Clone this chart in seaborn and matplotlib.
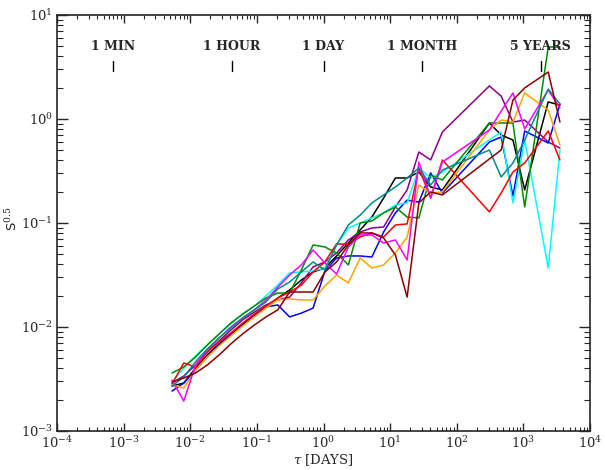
import numpy as np
import pandas as pd
import matplotlib
matplotlib.use("Agg")
import matplotlib.pyplot as plt
import seaborn as sns
from matplotlib.ticker import LogLocator, NullFormatter

# ---- data ----
TAU = [0.00533, 0.0080, 0.0120, 0.0180, 0.0271, 0.0406, 0.0610, 0.0916, 0.137, 0.206,
       0.310, 0.465, 0.698, 1.05, 1.57, 2.36, 3.55, 5.32, 7.99, 12.0,
       18.0, 27.0, 40.6, 60.9, 309, 464, 697, 1047, 2360, 3540]

black = [0.00271, 0.00289, 0.00403, 0.00538, 0.00687, 0.00838, 0.01045, 0.0128, 0.0156, 0.0190,
         0.0227, 0.0283, 0.0338, 0.0369, 0.0482, 0.0642, 0.0857, 0.114, 0.174, 0.271,
         0.271, 0.309, 0.222, 0.208, 0.915, 0.702, 0.628, 0.208, 1.46, 1.36]
purple = [0.00289, 0.00338, 0.00431, 0.00575, 0.00734, 0.00934, 0.0117, 0.0139, 0.0163, 0.0182,
          0.0194, 0.0265, 0.0378, 0.0422, 0.0515, 0.0687, 0.0819, 0.0896, 0.0915, 0.1425,
          0.208, 0.482, 0.404, 0.750, 2.08, 1.66, 0.934, 0.978, 0.601, 0.526]
blue = [0.00242, 0.00289, 0.00386, 0.00515, 0.00671, 0.00857, 0.0107, 0.0130, 0.0156, 0.0163,
        0.0125, 0.0136, 0.0152, 0.0346, 0.0461, 0.0482, 0.0482, 0.0471, 0.0819, 0.125,
        0.166, 0.159, 0.303, 0.194, 0.601, 0.671, 0.182, 0.767, 0.588, 1.394]
cyan = [0.00296, 0.00403, 0.00526, 0.00671, 0.00857, 0.0107, 0.0133, 0.0159, 0.0199, 0.0253,
        0.0331, 0.0338, 0.0346, 0.0369, 0.0615, 0.0896, 0.100, 0.112, 0.125, 0.149,
        0.156, 0.338, 0.271, 0.309, 0.628, 0.750, 0.156, 0.628, 0.0369, 0.503]
green = [0.00361, 0.00413, 0.00515, 0.00671, 0.00857, 0.0109, 0.0133, 0.0159, 0.0190, 0.0212,
         0.0212, 0.0353, 0.0615, 0.0588, 0.0515, 0.0395, 0.100, 0.1045, 0.125, 0.1425,
         0.114, 0.112, 0.289, 0.259, 0.915, 0.915, 0.915, 0.1425, 4.92, 4.92]
red = [0.00283, 0.00451, 0.00413, 0.00575, 0.00718, 0.00876, 0.0109, 0.0133, 0.0159, 0.0190,
       0.0217, 0.0253, 0.0338, 0.0422, 0.0628, 0.0628, 0.0734, 0.0802, 0.0734, 0.0957,
       0.098, 0.338, 0.174, 0.404, 0.128, 0.194, 0.309, 0.378, 0.767, 0.404]
orange = [0.00277, 0.00259, 0.00386, 0.00515, 0.00657, 0.00819, 0.0102, 0.0125, 0.0152, 0.0182,
          0.0186, 0.0182, 0.0182, 0.0248, 0.0316, 0.0265, 0.0461, 0.0369, 0.0395, 0.0515,
          0.0734, 0.232, 0.194, 0.199, 0.784, 0.978, 0.934, 1.78, 1.22, 0.562]
magenta = [0.00309, 0.00194, 0.00431, 0.00601, 0.00784, 0.0100, 0.0122, 0.0146, 0.0182, 0.0242,
           0.0316, 0.0395, 0.0550, 0.0413, 0.0323, 0.0588, 0.0767, 0.0767, 0.0642, 0.0687,
           0.0441, 0.386, 0.174, 0.386, 0.784, 1.19, 1.778, 0.802, 1.90, 1.276]
teal = [0.00271, 0.00331, 0.00461, 0.00615, 0.00784, 0.00978, 0.0122, 0.0146, 0.0174, 0.0232,
        0.0271, 0.0338, 0.0422, 0.0353, 0.0615, 0.0957, 0.119, 0.156, 0.186, 0.222,
        0.271, 0.338, 0.232, 0.323, 0.503, 0.277, 0.378, 0.628, 1.94, 1.394]
maroon = [0.00296, 0.00323, 0.00361, 0.00431, 0.00538, 0.00687, 0.00857, 0.01045, 0.0125, 0.0146,
          0.0217, 0.0217, 0.0217, 0.0338, 0.0422, 0.0615, 0.0802, 0.0802, 0.0717, 0.0492,
          0.0194, 0.156, 0.199, 0.186, 0.413, 0.503, 1.52, 1.99, 2.83, 0.934]

SERIES = {"black": black, "purple": purple, "blue": blue, "cyan": cyan, "green": green,
          "red": red, "orange": orange, "magenta": magenta, "teal": teal, "maroon": maroon}
COLORS = {"black": "#000000", "purple": "#8B008B", "blue": "#0000FF", "cyan": "#00FFFF",
          "green": "#008B00", "red": "#FF0000", "orange": "#FFA500", "magenta": "#FF00FF",
          "teal": "#008B8B", "maroon": "#8B0000"}

MARK_TAU = [1/1440, 1/24, 1.0, 30.0, 1826.0]
MARK_LABELS = ["1 MIN", "1 HOUR", "1 DAY", "1 MONTH", "5 YEARS"]

rows = []
for name, vals in SERIES.items():
    for t, v in zip(TAU, vals):
        rows.append({"tau": t, "s": v, "series": name})
df = pd.DataFrame(rows)

sns.set_style("ticks")
plt.rcParams["font.family"] = ["DejaVu Serif"]
plt.rcParams["mathtext.fontset"] = "dejavuserif"

fig = plt.figure(figsize=(6.05, 4.70), dpi=100)
ax = fig.add_axes([57/605, 1 - 431/470, 533/605, 416/470])

sns.lineplot(data=df, x="tau", y="s", hue="series", palette=COLORS,
             estimator=None, sort=False, legend=False, linewidth=1.1, ax=ax)

ax.set_xscale("log")
ax.set_yscale("log")
ax.set_xlim(1e-4, 1e4)
ax.set_ylim(1e-3, 10)

ax.xaxis.set_major_locator(LogLocator(base=10, numticks=20))
ax.xaxis.set_minor_locator(LogLocator(base=10, subs=np.arange(2, 10), numticks=200))
ax.yaxis.set_major_locator(LogLocator(base=10, numticks=20))
ax.yaxis.set_minor_locator(LogLocator(base=10, subs=np.arange(2, 10), numticks=200))
ax.xaxis.set_minor_formatter(NullFormatter())
ax.yaxis.set_minor_formatter(NullFormatter())

ax.tick_params(axis="x", which="major", direction="in", length=6, width=1.0,
               top=True, bottom=True, labelsize=9.5, pad=3)
ax.tick_params(axis="x", which="minor", direction="in", length=3, width=0.8,
               top=True, bottom=True)
ax.tick_params(axis="y", which="major", direction="in", length=8, width=1.0,
               left=True, right=True, labelsize=9.5, pad=3)
ax.tick_params(axis="y", which="minor", direction="in", length=4, width=0.8,
               left=True, right=True)
for sp in ax.spines.values():
    sp.set_linewidth(1.2)

for t, lab in zip(MARK_TAU, MARK_LABELS):
    ax.text(t, 5.0, lab, ha="center", va="center", fontsize=9, fontweight="bold")
    ax.plot([t, t], [2.9, 3.6], color="black", linewidth=1.0)

ax.set_xlabel(r"$\tau$ [DAYS]", fontsize=9.5)
ax.set_ylabel(r"S$^{0.5}$", fontsize=9.5, family="DejaVu Sans")
ax.xaxis.set_label_coords(0.5, -0.05)
ax.yaxis.set_label_coords(-0.069, 0.51)

fig.savefig("out.png", dpi=100)
